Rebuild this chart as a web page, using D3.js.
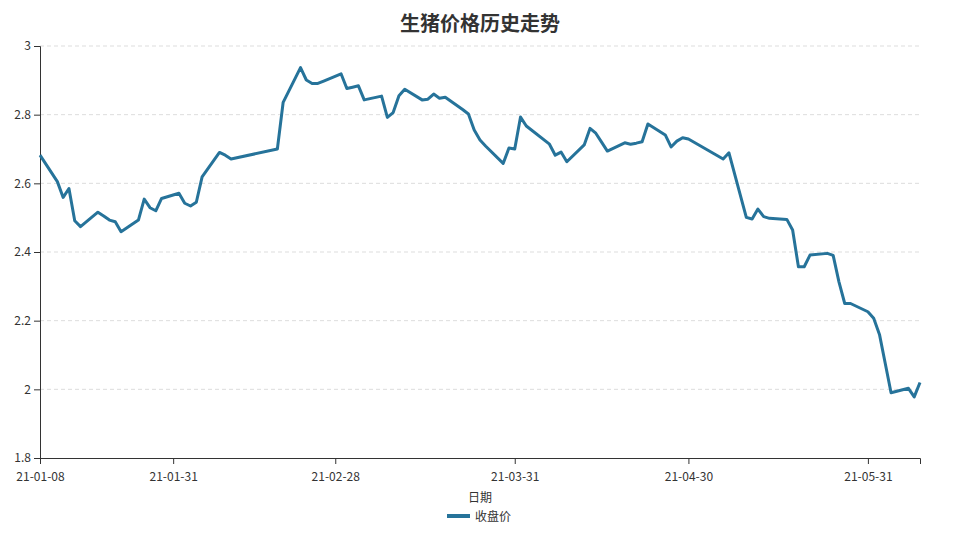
<!DOCTYPE html>
<html>
<head>
<meta charset="utf-8">
<script src="https://cdn.jsdelivr.net/npm/d3@7"></script>
<style>
  body { margin: 0; background: #fff; }
  svg { font-family: "Noto Sans CJK SC", "Noto Sans", sans-serif; }
</style>
</head>
<body>
<div id="chart"></div>
<script>
// closing price per trading day
const dates = [
  "2021-01-08", "2021-01-11", "2021-01-12", "2021-01-13", "2021-01-14", "2021-01-15",
  "2021-01-18", "2021-01-19", "2021-01-20", "2021-01-21", "2021-01-22",
  "2021-01-25", "2021-01-26", "2021-01-27", "2021-01-28", "2021-01-29",
  "2021-02-01", "2021-02-02", "2021-02-03", "2021-02-04", "2021-02-05",
  "2021-02-08", "2021-02-09", "2021-02-10", "2021-02-18", "2021-02-19",
  "2021-02-22", "2021-02-23", "2021-02-24", "2021-02-25", "2021-02-26",
  "2021-03-01", "2021-03-02", "2021-03-03", "2021-03-04", "2021-03-05",
  "2021-03-08", "2021-03-09", "2021-03-10", "2021-03-11", "2021-03-12",
  "2021-03-15", "2021-03-16", "2021-03-17", "2021-03-18", "2021-03-19",
  "2021-03-22", "2021-03-23", "2021-03-24", "2021-03-25", "2021-03-26",
  "2021-03-29", "2021-03-30", "2021-03-31", "2021-04-01", "2021-04-02",
  "2021-04-06", "2021-04-07", "2021-04-08", "2021-04-09",
  "2021-04-12", "2021-04-13", "2021-04-14", "2021-04-15", "2021-04-16",
  "2021-04-19", "2021-04-20", "2021-04-21", "2021-04-22", "2021-04-23",
  "2021-04-26", "2021-04-27", "2021-04-28", "2021-04-29", "2021-04-30",
  "2021-05-06", "2021-05-07",
  "2021-05-10", "2021-05-11", "2021-05-12", "2021-05-13", "2021-05-14",
  "2021-05-17", "2021-05-18", "2021-05-19", "2021-05-20", "2021-05-21",
  "2021-05-24", "2021-05-25", "2021-05-26", "2021-05-27", "2021-05-28",
  "2021-05-31", "2021-06-01", "2021-06-02", "2021-06-03", "2021-06-04",
  "2021-06-07", "2021-06-08", "2021-06-09"
];
const closes = [
  2.682, 2.605, 2.559, 2.585, 2.491, 2.474,
  2.516, 2.505, 2.493, 2.488, 2.459,
  2.493, 2.554, 2.529, 2.520, 2.556,
  2.571, 2.542, 2.534, 2.545, 2.619,
  2.690, 2.682, 2.671, 2.700, 2.836,
  2.937, 2.901, 2.891, 2.891, 2.898,
  2.919, 2.876, 2.880, 2.884, 2.843,
  2.854, 2.792, 2.806, 2.855, 2.874,
  2.843, 2.845, 2.860, 2.848, 2.851,
  2.815, 2.802, 2.755, 2.726, 2.708,
  2.658, 2.703, 2.700, 2.793, 2.767,
  2.714, 2.682, 2.691, 2.663,
  2.712, 2.760, 2.746, 2.720, 2.694,
  2.718, 2.714, 2.717, 2.721, 2.773,
  2.741, 2.706, 2.723, 2.733, 2.729,
  2.671, 2.689,
  2.501, 2.496, 2.525, 2.503, 2.498,
  2.495, 2.464, 2.357, 2.357, 2.391,
  2.396, 2.390, 2.313, 2.250, 2.250,
  2.226, 2.207, 2.160, 2.075, 1.990,
  2.003, 1.978, 2.020
];
const xTickDates = ["2021-01-08", "2021-01-31", "2021-02-28", "2021-03-31", "2021-04-30", "2021-05-31"];
const yTicks = [1.8, 2, 2.2, 2.4, 2.6, 2.8, 3];

const margin = { top: 46, right: 40, bottom: 82, left: 40 },
  width = 960 - margin.left - margin.right,
  height = 540 - margin.top - margin.bottom;

const parse = d3.timeParse("%Y-%m-%d");
const data = dates.map((d, i) => ({ date: parse(d), close: closes[i] }));

const svg = d3.select("#chart")
  .append("svg")
  .attr("width", 960)
  .attr("height", 540);

svg.append("text")
  .attr("x", 480)
  .attr("y", 31)
  .attr("text-anchor", "middle")
  .style("font-size", "20px")
  .style("font-weight", "bold")
  .style("fill", "#333")
  .text("生猪价格历史走势");

const g = svg.append("g")
  .attr("transform", "translate(" + margin.left + "," + margin.top + ")");

const x = d3.scaleTime()
  .domain(d3.extent(data, d => d.date))
  .range([0, width]);

const y = d3.scaleLinear()
  .domain([1.8, 3])
  .range([height, 0]);

// dashed grid
g.append("g")
  .selectAll("line")
  .data(yTicks.filter(v => v > 1.8))
  .enter()
  .append("line")
  .attr("x1", 0)
  .attr("x2", width)
  .attr("y1", d => y(d))
  .attr("y2", d => y(d))
  .attr("stroke", "#ddd")
  .attr("stroke-dasharray", "4,3");

const xAxis = g.append("g")
  .attr("transform", `translate(0, ${height})`)
  .call(d3.axisBottom(x)
    .tickValues(xTickDates.map(parse))
    .tickFormat(d3.timeFormat("%y-%m-%d"))
    .tickSize(6));
xAxis.selectAll("text").attr("y", 14);

const yAxis = g.append("g")
  .call(d3.axisLeft(y)
    .tickValues(yTicks)
    .tickFormat(d => String(+d.toFixed(1)))
    .tickSize(6));

[xAxis, yAxis].forEach(a => {
  a.selectAll("text").style("font-size", "12px").style("fill", "#333");
  a.selectAll("line, path").attr("stroke", "#333");
  a.style("font-family", "\"Noto Sans CJK SC\", sans-serif");
});

g.append("path")
  .datum(data)
  .attr("fill", "none")
  .attr("stroke", "#26739a")
  .attr("stroke-width", 3)
  .attr("stroke-linejoin", "round")
  .attr("d", d3.line()
    .x(d => x(d.date))
    .y(d => y(d.close)));

svg.append("text")
  .attr("x", 480)
  .attr("y", 502)
  .attr("text-anchor", "middle")
  .style("font-size", "12px")
  .style("fill", "#333")
  .text("日期");

// legend
svg.append("line")
  .attr("x1", 447)
  .attr("x2", 470)
  .attr("y1", 516)
  .attr("y2", 516)
  .attr("stroke", "#26739a")
  .attr("stroke-width", 4);

svg.append("text")
  .attr("x", 475)
  .attr("y", 520.5)
  .style("font-size", "12px")
  .style("fill", "#333")
  .text("收盘价");
</script>
</body>
</html>
